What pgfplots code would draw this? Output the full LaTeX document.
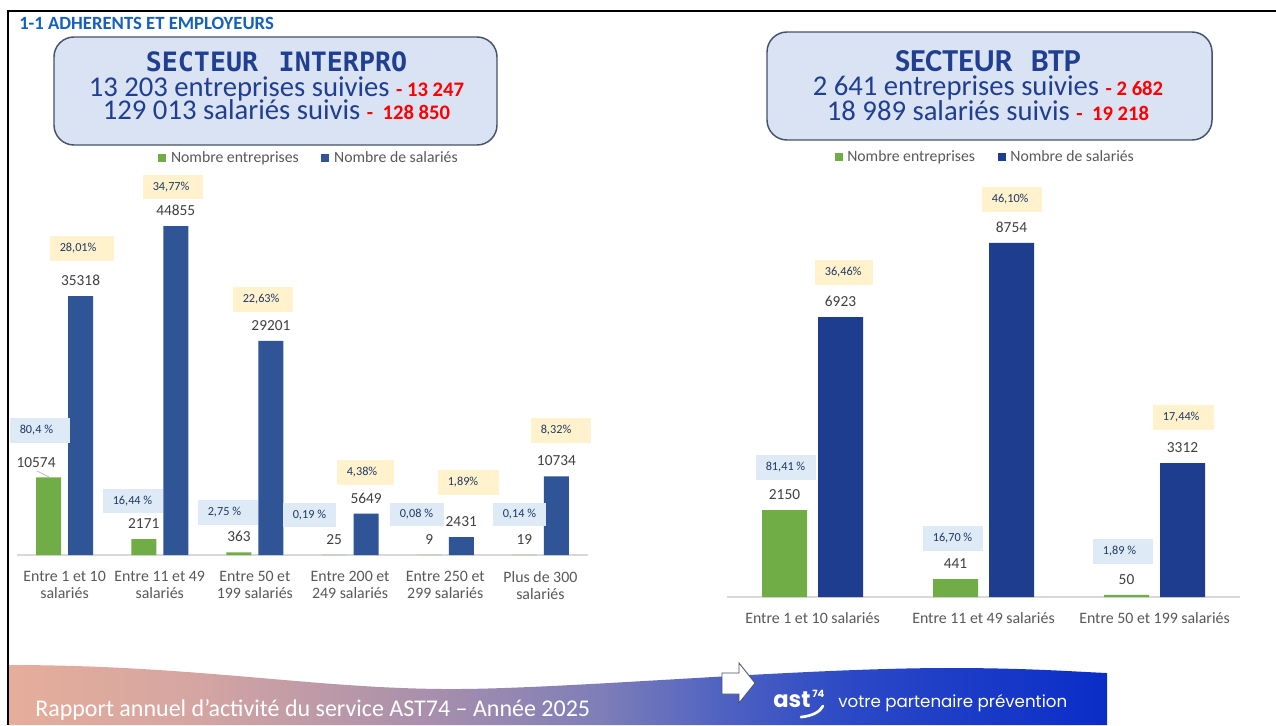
\documentclass[border=0pt]{standalone}
\usepackage{fontspec}
\setmainfont{Carlito}
\newfontfamily\monofnt{DejaVu Sans Mono}
\newfontfamily\popfnt{Poppins}
\usepackage{pgfplots}
\usepackage{pgfplotstable}
\pgfplotsset{compat=1.18}

\definecolor{ent}{HTML}{70AD47}
\definecolor{salL}{HTML}{2F5597}
\definecolor{salR}{HTML}{1F3D8E}
\definecolor{titleblue}{HTML}{213F91}
\definecolor{headblue}{HTML}{1560BD}
\definecolor{boxfill}{HTML}{DAE3F3}
\definecolor{boxline}{HTML}{44546A}
\definecolor{tickgray}{HTML}{595959}
\definecolor{valgray}{HTML}{404040}
\definecolor{axisgray}{HTML}{D9D9D9}
\definecolor{pcttext}{HTML}{1F3864}
\definecolor{pctY}{HTML}{FFF2CC}
\definecolor{pctB}{HTML}{DEEBF7}
\definecolor{fa}{HTML}{E6AE9A}
\definecolor{fb}{HTML}{D4A5A2}
\definecolor{fc}{HTML}{AA90AC}
\definecolor{fd}{HTML}{7E7EB8}
\definecolor{fe}{HTML}{4F62C2}
\definecolor{ff}{HTML}{2A48C6}
\definecolor{fg}{HTML}{0A2DC8}
\pgfdeclarehorizontalshading{foot}{100bp}{color(0bp)=(fa); color(25bp)=(fa);
  color(33.75bp)=(fb); color(43.75bp)=(fc); color(52bp)=(fd); color(57.5bp)=(fe);
  color(63.5bp)=(ff); color(75bp)=(fg); color(100bp)=(fg)}

% interpro
\pgfplotstableread{
x y dx
0 10574 -12.5
1 2171 0
2 363 0
3 25 0
4 9 0
5 19 0
}\interEnt
\pgfplotstableread{
x y
0 35318
1 44855
2 29201
3 5649
4 2431
5 10734
}\interSal
% btp
\pgfplotstableread{
x y
0 2150
1 441
2 50
}\btpEnt
\pgfplotstableread{
x y
0 6923
1 8754
2 3312
}\btpSal

\pgfplotsset{
  slide/.style={
    scale only axis, anchor=south west, ybar, ymin=0,
    enlargelimits=false, clip=false,
    axis x line=bottom, axis y line=none,
    x axis line style={-, draw=axisgray, line width=1.1pt},
    xtick style={draw=none}, ytick=\empty,
    xticklabel style={font=\fontsize{11.9}{13}\selectfont, text=tickgray,
      align=center, anchor=north, inner sep=0pt},
    nodes near coords={\pgfmathprintnumber[fixed,precision=0,1000 sep={},assume math mode=true]{\pgfplotspointmeta}},
    nodes near coords style={font=\fontsize{11.5}{12}\selectfont, text=valgray,
      inner sep=0pt, anchor=south, yshift=7.5pt},
    legend image code/.code={\draw[#1,draw=none] (0pt,-3pt) rectangle (6pt,3pt);},
    legend style={draw=none, fill=none, anchor=center, legend columns=2,
      font=\color{tickgray}\fontsize{11.8}{13}\selectfont, column sep=0pt,
      /tikz/every odd column/.append style={column sep=1.5pt},
      /tikz/every even column/.append style={column sep=15pt}},
  },
}

\newcommand{\pbox}[6]{%
  \fill[#5] (#1,#2) rectangle (#3,#4);
  \node[anchor=west, inner sep=0pt, text=pcttext, font=\fontsize{9.2}{10}\selectfont]
    at ({#1+9.5},{(#2+#4)/2}) {#6};}

\begin{document}
\begin{tikzpicture}[x=0.75pt, y=-0.75pt]
\useasboundingbox (0,0) rectangle (1276,725);
\fill[white] (0,0) rectangle (1276,725);

% header
\node[anchor=base west, inner sep=0pt, text=headblue] at (19,29)
  {\bfseries\fontsize{14}{14}\selectfont 1-1 ADHERENTS ET EMPLOYEURS};

\filldraw[fill=boxfill, draw=boxline, line width=1.1pt, rounded corners=15pt] (54,37) rectangle (497,145);
\node[anchor=base, inner sep=0pt, text=titleblue] at (276.5,71)
  {\monofnt\bfseries\fontsize{20}{20}\selectfont SECTEUR\hspace{15.4pt}INTERPRO};
\node[anchor=base, inner sep=0pt, text=titleblue] at (276.5,96)
  {\fontsize{21.5}{22}\selectfont 13 203 entreprises suivies {\bfseries\fontsize{15.5}{16}\selectfont\color{red}- 13 247}};
\node[anchor=base, inner sep=0pt, text=titleblue] at (276.5,119)
  {\fontsize{21.5}{22}\selectfont 129 013 salariés suivis {\bfseries\fontsize{15.5}{16}\selectfont\color{red}-\ \ 128 850}};

\filldraw[fill=boxfill, draw=boxline, line width=1.1pt, rounded corners=15pt] (767,32) rectangle (1212,140);
\node[anchor=base, inner sep=0pt, text=titleblue] at (988,71)
  {\bfseries\fontsize{24}{24}\selectfont SECTEUR\hspace{13.5pt}BTP};
\node[anchor=base, inner sep=0pt, text=titleblue] at (988,95)
  {\fontsize{21.5}{22}\selectfont 2 641 entreprises suivies {\bfseries\fontsize{15.5}{16}\selectfont\color{red}- 2 682}};
\node[anchor=base, inner sep=0pt, text=titleblue] at (988,120)
  {\fontsize{21.5}{22}\selectfont 18 989 salariés suivis {\bfseries\fontsize{15.5}{16}\selectfont\color{red}-\ \ 19 218}};

% interpro chart
\coordinate (LA) at (17,555);
\begin{axis}[slide, at={(LA)}, width=428.25pt, height=274.9pt,
  xmin=-0.5, xmax=5.5, ymax=50000, bar width=18.75pt,
  xtick={0,...,5},
  xticklabels={{Entre 1 et 10\\salariés},{Entre 11 et 49\\salariés},{Entre 50 et\\199 salariés},
    {Entre 200 et\\249 salariés},{Entre 250 et\\299 salariés},{Plus de 300\\salariés}},
  xticklabel style={yshift=-9.75pt},
  legend style={at={(0.512,1.083)}},
]
\addplot[fill=ent, draw=none, bar shift=-12pt,
  visualization depends on={\thisrow{dx}\as\dx},
  nodes near coords style={xshift=\dx*0.75pt}] table[x=x,y=y] {\interEnt};
\addlegendentry{Nombre entreprises}
\addplot[fill=salL, draw=none, bar shift=12pt] table[x=x,y=y] {\interSal};
\addlegendentry{Nombre de salariés}
\end{axis}
\draw[gray!70, line width=0.4pt] (37,471) -- (49,477);

% btp chart
\coordinate (RA) at (727,597);
\begin{axis}[slide, at={(RA)}, width=384.75pt, height=303.3pt,
  xmin=-0.5, xmax=2.5, ymax=10000, bar width=33.75pt,
  xtick={0,1,2},
  xticklabels={Entre 1 et 10 salariés, Entre 11 et 49 salariés, Entre 50 et 199 salariés},
  xticklabel style={yshift=-9.5pt},
  legend style={at={(0.504,1.087)}},
]
\addplot[fill=ent, draw=none, bar shift=-21pt] table[x=x,y=y] {\btpEnt};
\addlegendentry{Nombre entreprises}
\addplot[fill=salR, draw=none, bar shift=21pt] table[x=x,y=y] {\btpSal};
\addlegendentry{Nombre de salariés}
\end{axis}

% percentage labels
\pbox{50}{236}{114}{261}{pctY}{28,01\%}
\pbox{143}{175}{203}{199}{pctY}{34,77\%}
\pbox{233}{287}{293}{312}{pctY}{22,63\%}
\pbox{337}{460}{394}{485}{pctY}{4,38\%}
\pbox{438}{470}{499}{495}{pctY}{1,89\%}
\pbox{531}{418}{591}{443}{pctY}{8,32\%}
\pbox{10}{418}{70}{443}{pctB}{80,4 \%}
\pbox{103}{489}{163}{513}{pctB}{16,44 \%}
\pbox{198}{500}{258}{525}{pctB}{2,75 \%}
\pbox{283}{503}{336}{527}{pctB}{0,19 \%}
\pbox{390}{503}{444}{526}{pctB}{0,08 \%}
\pbox{493}{503}{546}{526}{pctB}{0,14 \%}
\pbox{756}{455}{816}{480}{pctB}{81,41 \%}
\pbox{923}{526}{983}{551}{pctB}{16,70 \%}
\pbox{1093}{539}{1153}{564}{pctB}{1,89 \%}
\pbox{815}{260}{873}{285}{pctY}{36,46\%}
\pbox{982}{187}{1042}{212}{pctY}{46,10\%}
\pbox{1153}{405}{1214}{430}{pctY}{17,44\%}

% footer band
\shade[shading=foot] (8,725) -- (8,665) .. controls (200,665) and (320,690) .. (460,689)
  .. controls (580,688) and (800,668) .. (950,668)
  .. controls (1030,668) and (1080,672) .. (1107,673) -- (1107,725) -- cycle;
\node[anchor=base west, inner sep=0pt, text=white] at (35,716)
  {\fontsize{18}{18}\selectfont Rapport annuel d’activité du service AST74 – Année 2025};
\filldraw[fill=white, draw=boxline, line width=0.6pt] (722,673) -- (739,673) -- (739,663)
  -- (755,683) -- (739,703) -- (739,694) -- (722,694) -- cycle;
\node[anchor=base west, inner sep=0pt, text=white] at (773,707)
  {\popfnt\bfseries\fontsize{17}{17}\selectfont ast};
\node[anchor=base west, inner sep=0pt, text=white] at (812,697)
  {\popfnt\bfseries\fontsize{7.5}{8}\selectfont 74};
\draw[white, line width=2pt, line cap=round] (801,717) .. controls (812,716) and (820,712) .. (823,706);
\node[anchor=base west, inner sep=0pt, text=white] at (838,707)
  {\popfnt\fontsize{12.5}{13}\selectfont votre partenaire prévention};

% frame
\draw[black, line width=1.8pt] (8,725) -- (8,11) -- (1276,11);
\end{tikzpicture}
\end{document}
